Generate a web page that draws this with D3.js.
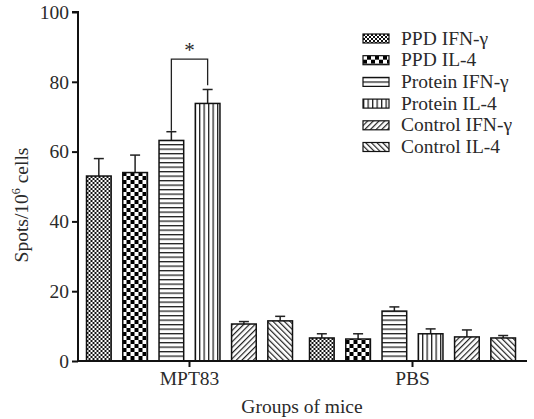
<!DOCTYPE html>
<html><head><meta charset="utf-8">
<script src="https://cdn.jsdelivr.net/npm/d3@7"></script>
<style>body{margin:0;background:#fff;} svg{display:block;} text{font-family:"Liberation Serif","Times New Roman",serif;fill:#2a2a2a;}</style>
</head><body>
<svg id="c" width="534" height="419"></svg>
<script>
const groups = ["MPT83", "PBS"];
const series = ["PPD IFN-γ", "PPD IL-4", "Protein IFN-γ", "Protein IL-4", "Control IFN-γ", "Control IL-4"];
const values = [
  [53, 54, 63.2, 73.8, 10.6, 11.5],
  [6.6, 6.3, 14.3, 7.8, 6.9, 6.6]
];
const errors = [
  [5, 5, 2.5, 4, 0.7, 1.3],
  [1.2, 1.5, 1.2, 1.4, 2.0, 0.7]
];
const yTicks = [0, 20, 40, 60, 80, 100];
const patternIds = ["pFine", "pChecker", "pHoriz", "pVert", "pFwd", "pBack"];

const svg = d3.select("#c");
const M = {left: 78, right: 524, top: 12, bottom: 361};
const x = d3.scaleBand().domain(groups).range([M.left, M.right]).padding(0);
const xi = d3.scaleBand().domain(series).range([0, 206]).paddingInner(0.32).paddingOuter(0);
const y = d3.scaleLinear().domain([0, 100]).range([M.bottom, M.top]);

const defs = svg.append("defs");
let p = defs.append("pattern").attr("id", "pFine").attr("patternUnits", "userSpaceOnUse").attr("width", 4).attr("height", 4);
p.append("rect").attr("width", 4).attr("height", 4).attr("fill", "#fff");
p.append("rect").attr("width", 2).attr("height", 2).attr("fill", "#111");
p.append("rect").attr("x", 2).attr("y", 2).attr("width", 2).attr("height", 2).attr("fill", "#111");
p = defs.append("pattern").attr("id", "pChecker").attr("patternUnits", "userSpaceOnUse").attr("width", 8).attr("height", 8);
p.append("rect").attr("width", 8).attr("height", 8).attr("fill", "#fff");
p.append("rect").attr("width", 4).attr("height", 4).attr("fill", "#000");
p.append("rect").attr("x", 4).attr("y", 4).attr("width", 4).attr("height", 4).attr("fill", "#000");
p = defs.append("pattern").attr("id", "pHoriz").attr("patternUnits", "userSpaceOnUse").attr("width", 4).attr("height", 4.5);
p.append("rect").attr("width", 4).attr("height", 4.5).attr("fill", "#fff");
p.append("rect").attr("y", 0).attr("width", 4).attr("height", 1.3).attr("fill", "#222");
p = defs.append("pattern").attr("id", "pVert").attr("patternUnits", "userSpaceOnUse").attr("width", 4.5).attr("height", 4);
p.append("rect").attr("width", 4.5).attr("height", 4).attr("fill", "#fff");
p.append("rect").attr("x", 0).attr("width", 1.3).attr("height", 4).attr("fill", "#222");
p = defs.append("pattern").attr("id", "pFwd").attr("patternUnits", "userSpaceOnUse").attr("width", 4).attr("height", 4).attr("patternTransform", "rotate(45)");
p.append("rect").attr("width", 4).attr("height", 4).attr("fill", "#fff");
p.append("rect").attr("width", 1.2).attr("height", 4).attr("fill", "#222");
p = defs.append("pattern").attr("id", "pBack").attr("patternUnits", "userSpaceOnUse").attr("width", 4).attr("height", 4).attr("patternTransform", "rotate(-45)");
p.append("rect").attr("width", 4).attr("height", 4).attr("fill", "#fff");
p.append("rect").attr("width", 1.2).attr("height", 4).attr("fill", "#222");

const gOff = (x.bandwidth() - 206) / 2;
groups.forEach((g, gi) => {
  const gg = svg.append("g").attr("transform", `translate(${x(g) + gOff},0)`);
  series.forEach((s, si) => {
    const v = values[gi][si], e = errors[gi][si];
    const bx = xi(s), bw = xi.bandwidth();
    const cx = bx + bw / 2;
    gg.append("line").attr("x1", cx).attr("x2", cx).attr("y1", y(v)).attr("y2", y(v + e)).attr("stroke", "#222").attr("stroke-width", 1.5);
    gg.append("line").attr("x1", cx - 5).attr("x2", cx + 5).attr("y1", y(v + e)).attr("y2", y(v + e)).attr("stroke", "#222").attr("stroke-width", 1.5);
    gg.append("rect").attr("x", bx).attr("y", y(v)).attr("width", bw).attr("height", y(0) - y(v))
      .attr("fill", `url(#${patternIds[si]})`).attr("stroke", "#111").attr("stroke-width", 1.5);
  });
});

const sigLeft = 66, sigTop = 86.5, sigRight = 79;
const gM = x("MPT83") + gOff;
const lx = gM + xi(series[2]) + xi.bandwidth() / 2, rx = gM + xi(series[3]) + xi.bandwidth() / 2;
svg.append("path").attr("d", `M${lx},${y(sigLeft)}V${y(sigTop)}H${rx}V${y(sigRight)}`)
  .attr("fill", "none").attr("stroke", "#222").attr("stroke-width", 1.3);
svg.append("text").attr("x", (lx + rx) / 2).attr("y", y(sigTop) - 2).attr("text-anchor", "middle").attr("font-size", 21).text("*");

const FS = 19.5;
const yAxis = d3.axisLeft(y).tickValues(yTicks).tickSize(6).tickPadding(3);
const ya = svg.append("g").attr("transform", `translate(${M.left},0)`).call(yAxis);
ya.select(".domain").attr("stroke", "#111").attr("stroke-width", 2).attr("d", `M-6,${y(100)}H0V${y(0)}`);
ya.selectAll(".tick line").attr("stroke", "#111").attr("stroke-width", 2);
ya.selectAll(".tick text").attr("font-size", FS).attr("font-family", "Liberation Serif, serif").attr("fill", "#2a2a2a");

const xAxis = d3.axisBottom(x).tickSize(6).tickPadding(4);
const xa = svg.append("g").attr("transform", `translate(0,${M.bottom})`).call(xAxis);
xa.select(".domain").attr("stroke", "#111").attr("stroke-width", 2).attr("d", `M${M.left},0H527`);
xa.selectAll(".tick line").attr("stroke", "#111").attr("stroke-width", 2);
xa.selectAll(".tick text").attr("font-size", FS).attr("font-family", "Liberation Serif, serif").attr("fill", "#2a2a2a");

svg.append("text").attr("x", 302).attr("y", 413).attr("text-anchor", "middle").attr("font-size", FS).text("Groups of mice");
const yl = svg.append("text").attr("transform", "translate(28,205) rotate(-90)").attr("text-anchor", "middle").attr("font-size", FS);
yl.append("tspan").text("Spots/10");
yl.append("tspan").attr("font-size", 12).attr("dy", -8).text("6");
yl.append("tspan").attr("dy", 8).text(" cells");

const leg = svg.append("g").attr("transform", "translate(363,38)");
series.forEach((s, i) => {
  const r = leg.append("g").attr("transform", `translate(0,${i * 21.7})`);
  r.append("rect").attr("x", 0).attr("y", -4).attr("width", 26).attr("height", 9)
    .attr("fill", `url(#${patternIds[i]})`).attr("stroke", "#111").attr("stroke-width", 1.2);
  r.append("text").attr("x", 38).attr("y", 6.5).attr("font-size", FS).text(s);
});
</script>
</body></html>
